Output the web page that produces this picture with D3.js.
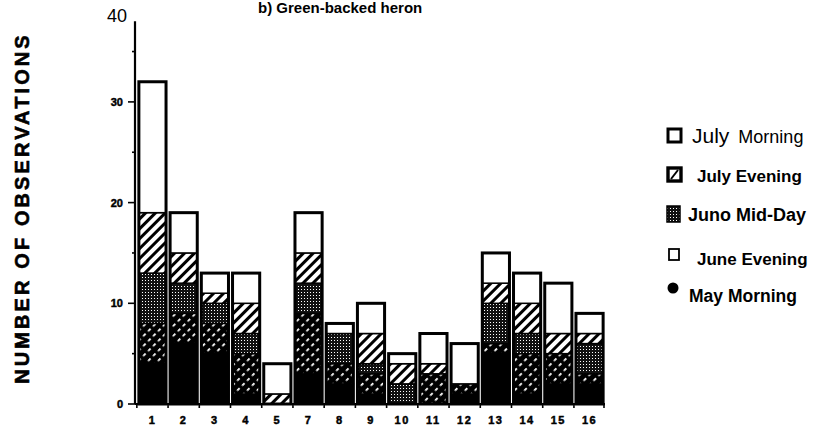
<!DOCTYPE html>
<html>
<head>
<meta charset="utf-8">
<script src="https://cdn.jsdelivr.net/npm/d3@7"></script>
<style>
  html, body { margin: 0; padding: 0; background: #fff; }
  svg { display: block; font-family: "Liberation Sans", Arial, sans-serif; }
  .tick-lbl { font-weight: bold; font-size: 11px; stroke: #000; stroke-width: 0.45px; }
  .leg-lbl  { font-weight: bold; }
  .thin     { font-family: "Liberation Sans Narrow", "Liberation Sans", sans-serif; font-weight: normal; }
</style>
</head>
<body>
<div id="chart"></div>
<script>
/* Stacked bar chart — b) Green-backed heron, observations per site */

const categories   = ['1', '2', '3', '4', '5', '7', '8', '9', '10', '11', '12', '13', '14', '15', '16'];
const mayMorning   = [4, 6, 5, 1, 0, 3, 2, 1, 0, 0, 1, 5, 1, 2, 2];
const juneEvening  = [4, 3, 3, 4, 0, 6, 2, 2, 0, 3, 1, 1, 4, 3, 1];
const junoMidDay   = [5, 3, 2, 2, 0, 3, 3, 1, 2, 0, 0, 4, 2, 0, 3];
const julyEvening  = [6, 3, 1, 3, 1, 3, 0, 3, 2, 1, 0, 2, 3, 2, 1];
const julyMorning  = [13, 4, 2, 3, 3, 4, 1, 3, 1, 3, 4, 3, 3, 5, 2];
const yMajorTicks  = [0, 10, 20, 30];
const yMinorTicks  = [5, 15, 25, 35];

// bottom to top
const seriesKeys = ['mayMorning', 'juneEvening', 'junoMidDay', 'julyEvening', 'julyMorning'];
const seriesVals = { mayMorning, juneEvening, junoMidDay, julyEvening, julyMorning };

const W = 813, H = 433;

const svg = d3.select('#chart').append('svg')
  .attr('width', W).attr('height', H);

/* ---- patterns ------------------------------------------------------------ */
const defs = svg.append('defs');

// July Evening: white with thick black "/" hatch
const pHatch = defs.append('pattern').attr('id', 'p-hatch')
  .attr('patternUnits', 'userSpaceOnUse').attr('width', 7).attr('height', 7)
  .attr('patternTransform', 'rotate(45)');
pHatch.append('rect').attr('width', 7).attr('height', 7).attr('fill', '#fff');
pHatch.append('rect').attr('width', 3).attr('height', 7).attr('fill', '#000');

// Juno Mid-Day: black with white stipple dots
const pDots = defs.append('pattern').attr('id', 'p-dots')
  .attr('patternUnits', 'userSpaceOnUse').attr('width', 3).attr('height', 3);
pDots.append('rect').attr('width', 3).attr('height', 3).attr('fill', '#111');
pDots.append('rect').attr('x', 1).attr('y', 1).attr('width', 1).attr('height', 1).attr('fill', '#fff');

// June Evening: black with short white "/" dashes
const pDash = defs.append('pattern').attr('id', 'p-dash')
  .attr('patternUnits', 'userSpaceOnUse').attr('width', 7).attr('height', 7)
  .attr('patternTransform', 'rotate(45)');
pDash.append('rect').attr('width', 7).attr('height', 7).attr('fill', '#000');
pDash.append('rect').attr('x', 2).attr('y', 0).attr('width', 1.8).attr('height', 3.5).attr('fill', '#fff');

const fills = {
  mayMorning:  '#000',
  juneEvening: 'url(#p-dash)',
  junoMidDay:  'url(#p-dots)',
  julyEvening: 'url(#p-hatch)',
  julyMorning: '#fff',
};

/* ---- scales ---------------------------------------------------------------- */
const x = d3.scaleBand().domain(categories).range([137, 605])
  .paddingInner(0.13).paddingOuter(0.06);
const y = d3.scaleLinear().domain([0, 40]).range([404, 1.2]);

const table = categories.map((c, i) => {
  const row = { cat: c };
  seriesKeys.forEach(k => { row[k] = seriesVals[k][i]; });
  return row;
});
const stacked = d3.stack().keys(seriesKeys)(table);

/* ---- bars ------------------------------------------------------------------ */
const gBars = svg.append('g');
gBars.selectAll('g.layer').data(stacked).enter().append('g')
  .attr('class', 'layer')
  .attr('fill', d => fills[d.key])
  .selectAll('rect').data(d => d.filter(s => s[1] > s[0])).enter().append('rect')
  .attr('x', d => x(d.data.cat))
  .attr('width', x.bandwidth())
  .attr('y', d => y(d[1]))
  .attr('height', d => y(d[0]) - y(d[1]))
  .attr('stroke', '#000').attr('stroke-width', 1.5);

// heavy outline round each bar
const totals = categories.map((c, i) => d3.sum(seriesKeys, k => seriesVals[k][i]));
gBars.selectAll('rect.outline').data(categories).enter().append('rect')
  .attr('class', 'outline')
  .attr('x', c => x(c))
  .attr('width', x.bandwidth())
  .attr('y', (c, i) => y(totals[i]))
  .attr('height', (c, i) => y(0) - y(totals[i]))
  .attr('fill', 'none').attr('stroke', '#000').attr('stroke-width', 3);

/* ---- axes ------------------------------------------------------------------ */
const axisX0 = 135;

svg.append('line')
  .attr('x1', axisX0).attr('x2', axisX0)
  .attr('y1', y(38)).attr('y2', y(0))
  .attr('stroke', '#000').attr('stroke-width', 2.2);

svg.selectAll('line.ymaj').data(yMajorTicks).enter().append('line')
  .attr('x1', axisX0 - 7).attr('x2', axisX0)
  .attr('y1', d => y(d)).attr('y2', d => y(d))
  .attr('stroke', '#000').attr('stroke-width', 1.6);
svg.selectAll('line.ymin').data(yMinorTicks).enter().append('line')
  .attr('x1', axisX0 - 3).attr('x2', axisX0)
  .attr('y1', d => y(d)).attr('y2', d => y(d))
  .attr('stroke', '#000').attr('stroke-width', 1.6);

svg.selectAll('text.ylab').data(yMajorTicks).enter().append('text')
  .attr('class', 'tick-lbl')
  .attr('x', axisX0 - 12).attr('y', d => y(d) + 4)
  .attr('text-anchor', 'end')
  .text(d => d);

svg.append('text')
  .attr('class', 'thin')
  .attr('x', 107).attr('y', 22)
  .attr('font-size', 18)
  .text('40');

// x axis
svg.append('line')
  .attr('x1', axisX0).attr('x2', x.range()[1])
  .attr('y1', y(0)).attr('y2', y(0))
  .attr('stroke', '#000').attr('stroke-width', 2.2);

const gapTicks = categories.map(c => x(c) - x.step() * x.paddingInner() / 2);
gapTicks.push(x.range()[1] - 1);
svg.selectAll('line.xt').data(gapTicks).enter().append('line')
  .attr('x1', d => d).attr('x2', d => d)
  .attr('y1', y(0)).attr('y2', y(0) + 4)
  .attr('stroke', '#000').attr('stroke-width', 1.6);

svg.selectAll('text.xlab').data(categories).enter().append('text')
  .attr('class', 'tick-lbl')
  .attr('x', c => x(c) + x.bandwidth() / 2)
  .attr('y', 424)
  .attr('text-anchor', 'middle')
  .attr('letter-spacing', 1.5)
  .text(c => c);

// y title
svg.append('text')
  .attr('transform', 'translate(29,208) rotate(-90)')
  .attr('text-anchor', 'middle')
  .attr('font-weight', 'bold').attr('font-size', 20)
  .attr('letter-spacing', 3.1)
  .attr('stroke', '#000').attr('stroke-width', 0.6)
  .text('NUMBER OF OBSERVATIONS');

// title
svg.append('text')
  .attr('x', 258).attr('y', 13)
  .attr('font-weight', 'bold').attr('font-size', 15)
  .text('b)  Green-backed heron');

/* ---- legend ---------------------------------------------------------------- */
const gLeg = svg.append('g');

gLeg.append('rect').attr('x', 668).attr('y', 129).attr('width', 13).attr('height', 13)
  .attr('fill', '#fff').attr('stroke', '#000').attr('stroke-width', 3);
const tJM = gLeg.append('text').attr('class', 'thin').attr('x', 692).attr('y', 143);
tJM.append('tspan').attr('font-size', 21).text('July');
tJM.append('tspan').attr('font-size', 18).attr('dx', 9).text('Morning');

gLeg.append('rect').attr('x', 668).attr('y', 168).attr('width', 13).attr('height', 13)
  .attr('fill', '#fff').attr('stroke', '#000').attr('stroke-width', 3.4);
gLeg.append('line').attr('x1', 671).attr('y1', 179).attr('x2', 678).attr('y2', 170)
  .attr('stroke', '#000').attr('stroke-width', 2);
gLeg.append('text').attr('class', 'leg-lbl').attr('font-size', 17)
  .attr('x', 697).attr('y', 182).text('July Evening');

gLeg.append('rect').attr('x', 667).attr('y', 206).attr('width', 13).attr('height', 16)
  .attr('fill', 'url(#p-dots)').attr('stroke', '#000').attr('stroke-width', 1.5);
gLeg.append('text').attr('class', 'leg-lbl').attr('font-size', 18)
  .attr('x', 688).attr('y', 221).text('Juno Mid-Day');

gLeg.append('rect').attr('x', 669).attr('y', 249).attr('width', 10).attr('height', 11)
  .attr('fill', '#fff').attr('stroke', '#000').attr('stroke-width', 1.8);
gLeg.append('text').attr('class', 'leg-lbl').attr('font-size', 17)
  .attr('x', 697).attr('y', 265).text('June Evening');

gLeg.append('circle').attr('cx', 673).attr('cy', 288).attr('r', 5.5).attr('fill', '#000');
gLeg.append('text').attr('class', 'leg-lbl').attr('font-size', 17.5)
  .attr('x', 689).attr('y', 302).text('May Morning');
</script>
</body>
</html>
